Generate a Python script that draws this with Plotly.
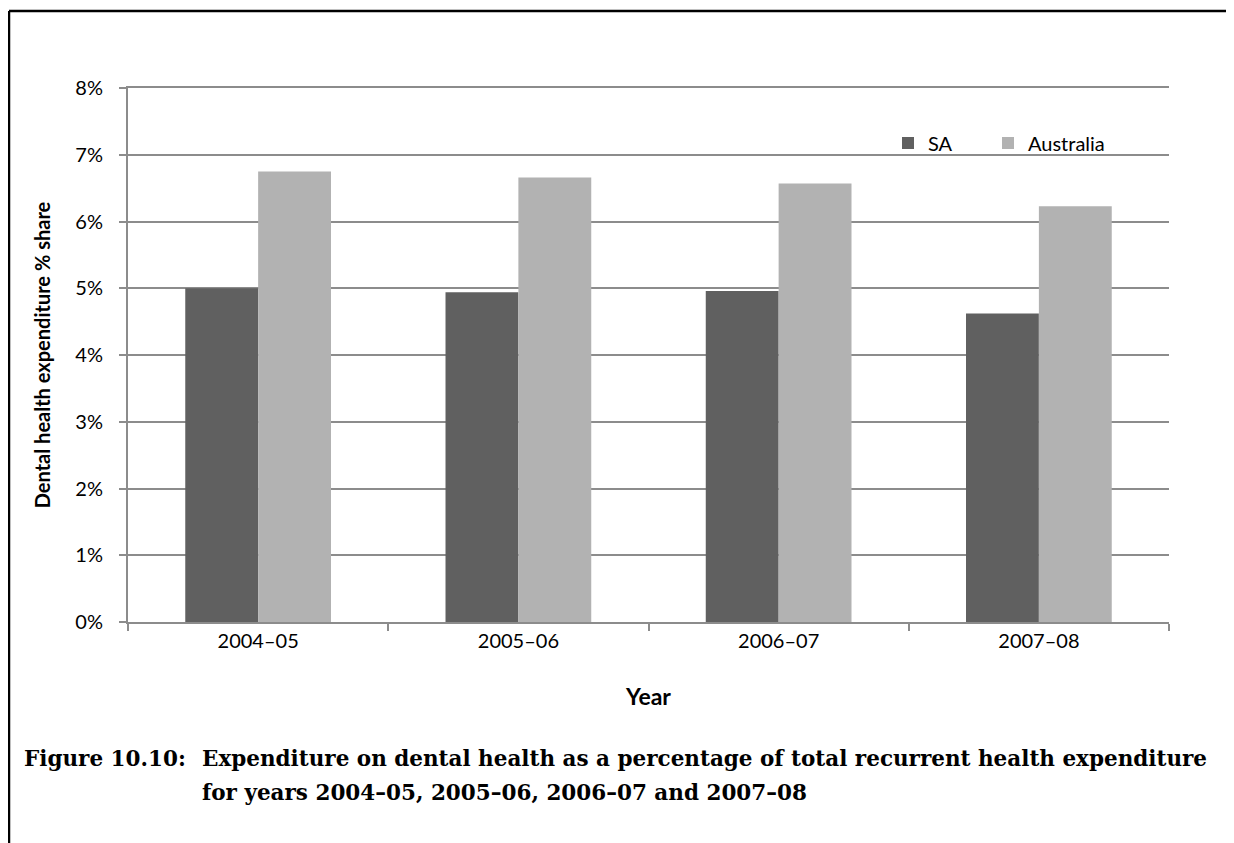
import plotly.graph_objects as go

years = ["2004–05", "2005–06", "2006–07", "2007–08"]
sa_values = [5.00, 4.94, 4.96, 4.62]
australia_values = [6.75, 6.66, 6.57, 6.23]
y_ticks = [0, 1, 2, 3, 4, 5, 6, 7, 8]
y_tick_labels = [f"{v}%" for v in y_ticks]

W, H = 1234, 843
OFF = 8  # page body margin
L, R, T, B = 128 - OFF, 1169 - OFF, 88 - OFF, 622 - OFF

def px(x):
    return (x - OFF - L) / (R - L)

def py(y):
    return (B - (y - OFF)) / (B - T)

fig = go.Figure()
fig.add_trace(go.Bar(x=years, y=sa_values, name="SA", legend="legend",
                     marker=dict(color="#606060", line=dict(width=0))))
fig.add_trace(go.Bar(x=years, y=australia_values, name="Australia", legend="legend2",
                     marker=dict(color="#b2b2b2", line=dict(width=0))))

font_main = "Lato, 'Open Sans', sans-serif"
leg_common = dict(orientation="h", yanchor="middle", xanchor="left", y=py(143),
                  font=dict(size=20, family=font_main), bgcolor="rgba(0,0,0,0)", itemwidth=30)

fig.update_layout(
    width=W, height=H,
    margin=dict(l=L, r=W - R, t=T, b=H - B, autoexpand=False),
    paper_bgcolor="white", plot_bgcolor="white",
    barmode="group", bargap=0.44, bargroupgap=0,
    font=dict(family=font_main, color="#000000", size=20),
    showlegend=True,
    legend=dict(x=px(888), **leg_common),
    legend2=dict(x=px(988), **leg_common),
    xaxis=dict(
        type="category", showline=True, linecolor="#8c8c8c", linewidth=2, mirror=True,
        ticks="outside", tickson="boundaries", ticklen=7, tickcolor="#8c8c8c", tickwidth=1.5,
        showgrid=False, tickfont=dict(size=20, family=font_main),
        title=dict(text="<b>Year</b>", font=dict(size=23, family=font_main), standoff=38),
    ),
    yaxis=dict(
        range=[0, 8], tickvals=y_ticks, ticktext=y_tick_labels,
        showline=True, linecolor="#8c8c8c", linewidth=2,
        ticks="outside", ticklen=7, tickcolor="#8c8c8c", tickwidth=1.5,
        showgrid=True, gridcolor="#8c8c8c", gridwidth=1.5,
        zeroline=False, tickfont=dict(size=20, family=font_main), ticklabelstandoff=12,
        title=dict(text="<b>Dental health expenditure % share</b>", font=dict(size=20, family=font_main), standoff=19),
    ),
)

# outer frame (top and left)
fig.add_shape(type="line", xref="paper", yref="paper", x0=px(9), x1=px(1250), y0=py(11), y1=py(11),
              line=dict(color="black", width=2.5))
fig.add_shape(type="line", xref="paper", yref="paper", x0=px(9), x1=px(9), y0=py(11), y1=py(860),
              line=dict(color="black", width=2.5))

cap_font = dict(family="'DejaVu Serif', serif", size=21.5, color="black")
fig.add_annotation(xref="paper", yref="paper", x=px(22), y=py(758), xanchor="left", yanchor="middle",
                   text="<b>Figure 10.10:</b>", showarrow=False, font=cap_font)
fig.add_annotation(xref="paper", yref="paper", x=px(200), y=py(758), xanchor="left", yanchor="middle",
                   text="<b>Expenditure on dental health as a percentage of total recurrent health expenditure</b>",
                   showarrow=False, font=cap_font)
fig.add_annotation(xref="paper", yref="paper", x=px(200), y=py(792), xanchor="left", yanchor="middle",
                   text="<b>for years 2004–05, 2005–06, 2006–07 and 2007–08</b>",
                   showarrow=False, font=cap_font)

fig.write_html("out.html")
